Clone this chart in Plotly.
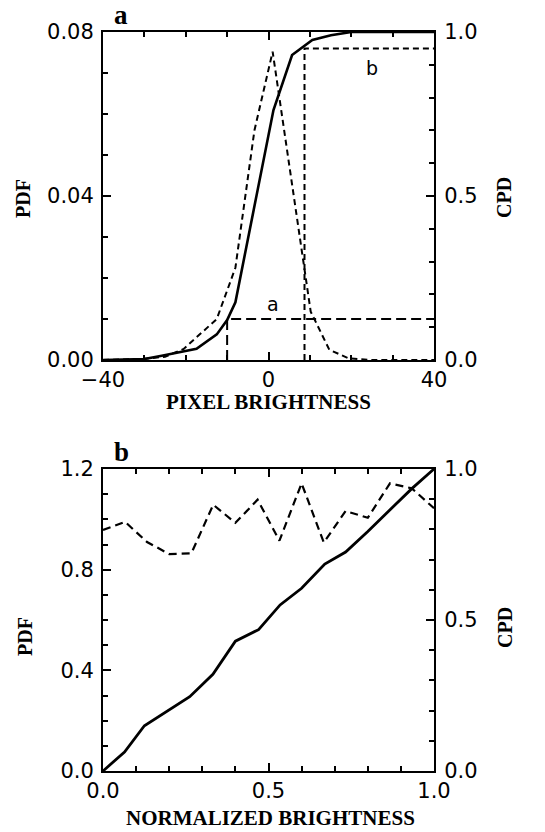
import plotly.graph_objects as go

# ---------- Panel a data ----------
pdf_a_x = [-40, -35, -30, -25, -20.5, -12.5, -8.0, -3.4, 1.0, 10.2, 14.7, 19.4, 25, 40]
pdf_a_y = [0.0, 0.0002, 0.0003, 0.0008, 0.0027, 0.0100, 0.0225, 0.0560, 0.0752, 0.0118, 0.0025, 0.0004, 0.0, 0.0]

cpd_a_x = [-40, -30, -25.8, -17.4, -12.5, -10.0, -8.0, 1.2, 5.7, 10.6, 15.1, 20, 40]
cpd_a_y = [0.0, 0.003, 0.013, 0.034, 0.078, 0.122, 0.176, 0.762, 0.930, 0.976, 0.990, 1.0, 1.0]

# reference levels (x, CPD)
ref_a = (-10.0, 0.125)
ref_b = (8.7, 0.95)

# ---------- Panel b data ----------
pdf_b_x = [0, 0.0667, 0.133, 0.2, 0.267, 0.333, 0.4, 0.467, 0.533, 0.6, 0.667, 0.733, 0.8, 0.867, 0.933, 1.0]
pdf_b_y = [0.958, 0.99, 0.91, 0.862, 0.865, 1.058, 0.986, 1.078, 0.915, 1.143, 0.908, 1.033, 1.006, 1.143, 1.123, 1.044]

cpd_b_x = [0, 0.065, 0.125, 0.197, 0.262, 0.332, 0.40, 0.47, 0.535, 0.60, 0.670, 0.733, 0.80, 0.868, 0.933, 1.0]
cpd_b_y = [0, 0.063, 0.150, 0.200, 0.246, 0.320, 0.430, 0.468, 0.550, 0.605, 0.685, 0.725, 0.793, 0.866, 0.935, 1.0]

W, H = 545, 832
def px(x): return x / W
def py(y): return 1 - y / H

SANS = "DejaVu Sans"
SERIF = "Liberation Serif"
TICKFONT = dict(family=SANS, size=21, color="black")

fig = go.Figure()

# Panel a
fig.add_trace(go.Scatter(x=pdf_a_x, y=pdf_a_y, xaxis="x", yaxis="y", mode="lines",
                         line=dict(color="black", width=2, dash="6px,4px"), showlegend=False))
fig.add_trace(go.Scatter(x=cpd_a_x, y=cpd_a_y, xaxis="x", yaxis="y2", mode="lines",
                         line=dict(color="black", width=2.6), showlegend=False))
fig.add_trace(go.Scatter(x=[ref_a[0], ref_a[0], 40], y=[0, ref_a[1], ref_a[1]], xaxis="x", yaxis="y2",
                         mode="lines", line=dict(color="black", width=2, dash="10px,5px"), showlegend=False))
fig.add_trace(go.Scatter(x=[ref_b[0], ref_b[0], 40], y=[0, ref_b[1], ref_b[1]], xaxis="x", yaxis="y2",
                         mode="lines", line=dict(color="black", width=2, dash="6px,4px"), showlegend=False))

# Panel b
fig.add_trace(go.Scatter(x=pdf_b_x, y=pdf_b_y, xaxis="x2", yaxis="y3", mode="lines",
                         line=dict(color="black", width=2.2, dash="8px,5px"), showlegend=False))
fig.add_trace(go.Scatter(x=cpd_b_x, y=cpd_b_y, xaxis="x2", yaxis="y4", mode="lines",
                         line=dict(color="black", width=2.8), showlegend=False))

xdom = [px(103), px(434)]
ydom_a = [py(360), py(32)]
ydom_b = [py(771), py(469)]

def axis_common(**kw):
    d = dict(showgrid=False, zeroline=False, showline=True, linecolor="black", linewidth=2,
             ticks="inside", ticklen=8, tickwidth=2, tickcolor="black", tickfont=TICKFONT,
             automargin=False)
    d.update(kw)
    return d

minor = lambda dt: dict(ticks="inside", ticklen=5, tickwidth=2, tickcolor="black", dtick=dt, showgrid=False)

fig.update_layout(
    width=W, height=H, margin=dict(l=0, r=0, t=0, b=0, autoexpand=False),
    paper_bgcolor="white", plot_bgcolor="white",
    xaxis=axis_common(domain=xdom, anchor="y", range=[-40, 40], tickvals=[-40, 0, 40],
                      mirror="ticks", minor=minor(10), ticklabelstandoff=0),
    yaxis=axis_common(domain=ydom_a, anchor="x", range=[0, 0.08], tickvals=[0, 0.04, 0.08],
                      tickformat=".2f", minor=minor(0.01), ticklabelstandoff=3),
    yaxis2=axis_common(overlaying="y", side="right", anchor="x", range=[0, 1], tickvals=[0, 0.5, 1.0],
                       tickformat=".1f", minor=minor(0.1), ticklabelstandoff=4),
    xaxis2=axis_common(domain=xdom, anchor="y3", range=[0, 1], tickvals=[0, 0.5, 1.0], tickformat=".1f",
                       mirror="ticks", minor=minor(0.1), ticklabelstandoff=0),
    yaxis3=axis_common(domain=ydom_b, anchor="x2", range=[0, 1.2], tickvals=[0, 0.4, 0.8, 1.2],
                       tickformat=".1f", minor=minor(0.1), ticklabelstandoff=3),
    yaxis4=axis_common(overlaying="y3", side="right", anchor="x2", range=[0, 1], tickvals=[0, 0.5, 1.0],
                       tickformat=".1f", minor=minor(0.1), ticklabelstandoff=4),
)

ann = []
def add_text(text, x, y, size, family, bold=False, angle=0, xref="paper", yref="paper"):
    t = f"<b>{text}</b>" if bold else text
    ann.append(dict(text=t, x=x, y=y, xref=xref, yref=yref, showarrow=False, textangle=angle,
                    xanchor="center", yanchor="middle", font=dict(family=family, size=size, color="black")))

add_text("a", px(121), py(15), 27, SERIF, bold=True)
add_text("b", px(121), py(452), 27, SERIF, bold=True)
add_text("PDF", px(23), py(199), 20, SERIF, bold=True, angle=-90)
add_text("CPD", px(504), py(198), 20, SERIF, bold=True, angle=-90)
add_text("PIXEL BRIGHTNESS", px(268.5), py(402), 21, SERIF, bold=True)
add_text("PDF", px(25), py(637), 20, SERIF, bold=True, angle=-90)
add_text("CPD", px(505), py(628), 20, SERIF, bold=True, angle=-90)
add_text("NORMALIZED BRIGHTNESS", px(270), py(818), 21, SERIF, bold=True)
add_text("a", 1.0, 0.17, 19, SANS, xref="x", yref="y2")
add_text("b", 25.0, 0.89, 19, SANS, xref="x", yref="y2")

fig.update_layout(annotations=ann)
fig.write_html("out.html")
